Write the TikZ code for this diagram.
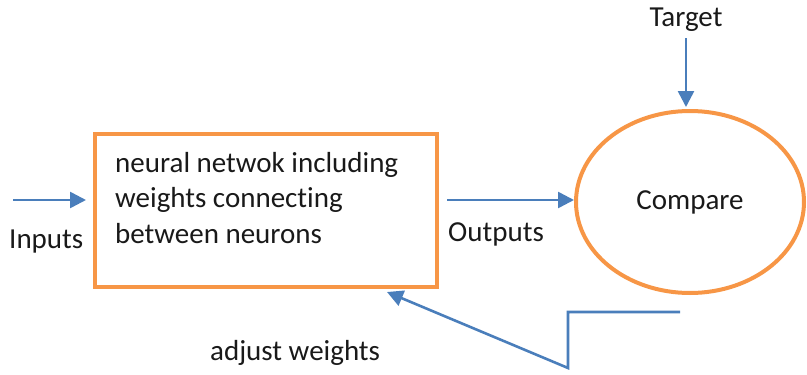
\documentclass[tikz,border=0pt]{standalone}
\usepackage{fontspec}
\setmainfont[Ligatures=NoCommon]{Carlito}
\usetikzlibrary{arrows.meta,shapes.geometric}
\definecolor{flowblue}{HTML}{4A7EBB}
\definecolor{boxorange}{HTML}{F79646}
\tikzset{
  flow/.style={draw=flowblue, line width=2.6pt, -{Triangle[width=16pt,length=16pt]}},
  txt/.style={font=\fontsize{29}{34}\selectfont, text=black!90},
  lbl/.style={txt, inner sep=0pt, anchor=base west},
}
\begin{document}
\begin{tikzpicture}[x=1pt,y=-1pt]
  \useasboundingbox (0,0) rectangle (807,375);

  % neural network block
  \node[draw=boxorange, line width=4pt, minimum width=342pt, minimum height=153pt,
        inner sep=0pt] (box) at (266,210.5) {};
  \node[lbl] (l1) at (115,172) {neural netwok including};
  \node[lbl] (l2) at (115,207) {weights connecting};
  \node[lbl] (l3) at (115,243) {between neurons};

  % comparison
  \node[draw=boxorange, line width=4pt, ellipse, minimum width=228pt, minimum height=182pt,
        inner sep=0pt, txt] (cmp) at (690,202) {Compare};

  % labels
  \node[lbl] (inp) at (9,248) {Inputs};
  \node[lbl] (outp) at (448,241) {Outputs};
  \node[txt, inner sep=0pt, anchor=base] (tgt) at (686,26) {Target};
  \node[lbl] (adj) at (210,360) {adjust weights};

  % connectors
  \coordinate (inS) at (13,200);
  \draw[flow] (inS) -- ([xshift=-7pt]box.west |- inS);
  \draw[flow] ([xshift=8pt]box.east |- inS) -- (cmp.west |- inS);
  \coordinate (tgtS) at (686,38);
  \draw[flow] (tgtS) -- (686,107);
  \coordinate (fbA) at (680,312);
  \coordinate (fbB) at (568,312);
  \coordinate (fbC) at (568,368);
  \coordinate (fbD) at (387,292);
  \draw[flow, line join=miter] (fbA) -- (fbB) -- (fbC) -- (fbD);
\end{tikzpicture}
\end{document}
